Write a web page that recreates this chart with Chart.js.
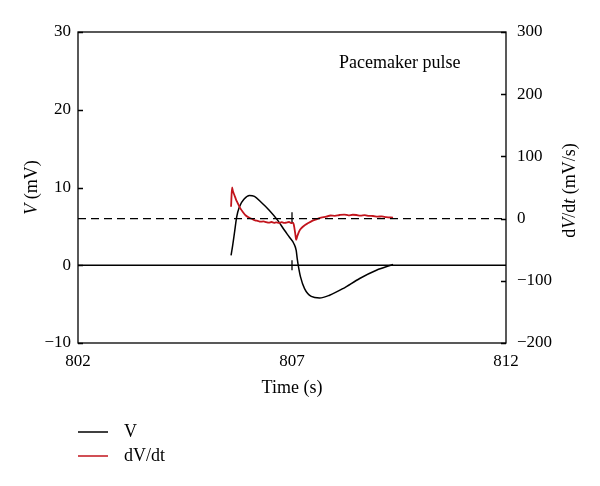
<!DOCTYPE html>
<html lang="en">
<head>
  <meta charset="UTF-8">
  <title>Pacemaker pulse</title>
  <script src="https://cdn.jsdelivr.net/npm/chart.js"></script>
  <style>
    body { margin: 0; background: #fff; }
    #wrap { width: 600px; height: 486px; }
  </style>
</head>
<body>
  <div id="wrap"><canvas id="pulseChart"></canvas></div>

  <script>
    // V (mV) against time (s)
    const timeV = [805.576, 805.614, 805.653, 805.707, 805.770, 805.888, 806.005, 806.122, 806.279, 806.473,
                   806.667, 806.824, 806.941, 807.042, 807.098, 807.122, 807.152, 807.199, 807.293, 807.450,
                   807.644, 807.878, 808.190, 808.581, 808.972, 809.361];
    const valueV = [1.28, 2.56, 4.06, 6.2, 7.5, 8.55, 8.97, 8.85, 8.1, 7.05,
                    5.77, 4.5, 3.6, 2.8, 1.9, 0.86, -0.2, -1.5, -3.0, -4.0,
                    -4.2, -3.85, -3.0, -1.7, -0.64, 0.1];

    // dV/dt (mV/s) against time (s)
    const timeDv = [805.576, 805.600, 805.620, 805.653, 805.690, 805.731, 805.780, 805.848, 805.920, 806.005,
                    806.080, 806.140, 806.199, 806.260, 806.330, 806.396, 806.460, 806.520, 806.580, 806.630,
                    806.700, 806.760, 806.820, 806.864, 806.930, 806.980, 807.019, 807.040, 807.058, 807.080,
                    807.098, 807.120, 807.136, 807.170, 807.215, 807.290, 807.370, 807.460, 807.567, 807.680,
                    807.801, 807.900, 808.000, 808.112, 808.220, 808.320, 808.420, 808.504, 808.600, 808.700,
                    808.800, 808.892, 809.000, 809.100, 809.200, 809.361];
    const valueDv = [19, 50, 44, 38, 31, 25, 18, 11, 5, 1.5,
                     -1, -3, -3.5, -5, -4.5, -5.5, -6.5, -5.5, -6.8, -6,
                     -7, -5.8, -7, -6.5, -5.5, -7.2, -6.5, -9, -16, -26,
                     -34, -29, -26, -20, -15.6, -11, -7.6, -4, -1.1, 1.5,
                     3, 5, 4.5, 5.8, 6.5, 5.2, 6.2, 5.8, 4.8, 5.5,
                     4.4, 4.2, 3.2, 3.6, 2.4, 1.5];

    const xTicks = [802, 807, 812];
    const leftTicks = [-10, 0, 10, 20, 30];
    const rightTicks = [-200, -100, 0, 100, 200, 300];
    const markTime = 807;

    const SERIF = '"Liberation Serif", "Times New Roman", serif';
    const RED = '#c2141c';

    function toPoints(xs, ys) {
      return xs.map((x, i) => ({ x: x, y: ys[i] }));
    }
    function minus(v) {
      return String(v).replace('-', '\u2212');
    }

    // draws mixed roman/italic text centred on (cx, cy)
    function drawParts(ctx, parts, cx, cy, angle, size) {
      ctx.save();
      ctx.translate(cx, cy);
      ctx.rotate(angle);
      ctx.textBaseline = 'middle';
      ctx.textAlign = 'left';
      let total = 0;
      parts.forEach(p => {
        ctx.font = (p[1] ? 'italic ' : '') + size + 'px ' + SERIF;
        total += ctx.measureText(p[0]).width;
      });
      let x = -total / 2;
      parts.forEach(p => {
        ctx.font = (p[1] ? 'italic ' : '') + size + 'px ' + SERIF;
        ctx.fillText(p[0], x, 0);
        x += ctx.measureText(p[0]).width;
      });
      ctx.restore();
    }

    const decorations = {
      id: 'decorations',
      afterDraw(chart) {
        const ctx = chart.ctx;
        const a = chart.chartArea;
        const yL = chart.scales.yL, yR = chart.scales.yR;
        ctx.save();
        ctx.strokeStyle = '#000';
        ctx.lineWidth = 1.3;
        ctx.strokeRect(a.left, a.top, a.right - a.left, a.bottom - a.top);

        // inward tick marks
        ctx.beginPath();
        leftTicks.forEach(v => {
          const y = Math.round(yL.getPixelForValue(v)) + 0.5;
          ctx.moveTo(a.left, y); ctx.lineTo(a.left + 5, y);
        });
        rightTicks.forEach(v => {
          const y = Math.round(yR.getPixelForValue(v)) + 0.5;
          ctx.moveTo(a.right - 5, y); ctx.lineTo(a.right, y);
        });
        ctx.stroke();

        ctx.fillStyle = '#000';
        drawParts(ctx, [['Time (s)', false]], (a.left + a.right) / 2, 388, 0, 18);
        drawParts(ctx, [['V', true], [' (mV)', false]], 32, (a.top + a.bottom) / 2, -Math.PI / 2, 18);
        drawParts(ctx, [['d', false], ['V', true], ['/d', false], ['t', true], [' (mV/s)', false]],
          570, (a.top + a.bottom) / 2 + 3, -Math.PI / 2, 18);

        ctx.font = '18px ' + SERIF;
        ctx.textAlign = 'left';
        ctx.textBaseline = 'middle';
        ctx.fillText('Pacemaker pulse', 339, 63);

        // legend
        const items = [['V', '#000', 432], ['dV/dt', RED, 456]];
        items.forEach(it => {
          ctx.strokeStyle = it[1];
          ctx.lineWidth = 1.5;
          ctx.beginPath();
          ctx.moveTo(78, it[2]); ctx.lineTo(108, it[2]);
          ctx.stroke();
          ctx.fillStyle = '#000';
          ctx.fillText(it[0], 124, it[2]);
        });
        ctx.restore();
      }
    };

    const ctx = document.getElementById('pulseChart').getContext('2d');
    const chart = new Chart(ctx, {
      type: 'line',
      data: {
        datasets: [
          {
            label: 'zero V',
            data: [{ x: 802, y: 0 }, { x: 812, y: 0 }],
            yAxisID: 'yL',
            borderColor: '#000',
            borderWidth: 1.3,
            pointRadius: 0
          },
          {
            label: 'zero dV/dt',
            data: [{ x: 802, y: 0 }, { x: 812, y: 0 }],
            yAxisID: 'yR',
            borderColor: '#000',
            borderWidth: 1.3,
            borderDash: [8, 5],
            pointRadius: 0
          },
          {
            label: 'mark V',
            data: [{ x: markTime, y: 0 }],
            yAxisID: 'yL',
            showLine: false,
            pointStyle: 'line',
            rotation: 90,
            pointRadius: 5,
            borderColor: '#000',
            borderWidth: 1.3
          },
          {
            label: 'mark dV/dt',
            data: [{ x: markTime, y: 2 }],
            yAxisID: 'yR',
            showLine: false,
            pointStyle: 'line',
            rotation: 90,
            pointRadius: 5,
            borderColor: '#000',
            borderWidth: 1.3
          },
          {
            label: 'dV/dt',
            data: toPoints(timeDv, valueDv),
            yAxisID: 'yR',
            borderColor: RED,
            borderWidth: 1.8,
            pointRadius: 0,
            cubicInterpolationMode: 'monotone'
          },
          {
            label: 'V',
            data: toPoints(timeV, valueV),
            yAxisID: 'yL',
            borderColor: '#000',
            borderWidth: 1.5,
            pointRadius: 0,
            cubicInterpolationMode: 'monotone'
          }
        ]
      },
      options: {
        responsive: true,
        maintainAspectRatio: false,
        animation: false,
        layout: { padding: { top: 32, left: 0, right: 0, bottom: 0 } },
        plugins: {
          legend: { display: false },
          tooltip: { enabled: false }
        },
        scales: {
          x: {
            type: 'linear',
            min: 802,
            max: 812,
            afterBuildTicks: s => { s.ticks = xTicks.map(v => ({ value: v })); },
            afterFit: s => { s.height = 143; },
            grid: { display: false, drawTicks: false },
            border: { display: false },
            ticks: { padding: 8, color: '#000', font: { family: SERIF, size: 17 }, maxRotation: 0 }
          },
          yL: {
            position: 'left',
            min: -10,
            max: 30,
            afterBuildTicks: s => { s.ticks = leftTicks.map(v => ({ value: v })); },
            afterFit: s => { s.width = 78; },
            grid: { display: false, drawTicks: false },
            border: { display: false },
            ticks: { padding: 7, color: '#000', font: { family: SERIF, size: 17 }, callback: v => minus(v) }
          },
          yR: {
            position: 'right',
            min: -200,
            max: 300,
            afterBuildTicks: s => { s.ticks = rightTicks.map(v => ({ value: v })); },
            afterFit: s => { s.width = 94; },
            grid: { display: false, drawTicks: false },
            border: { display: false },
            ticks: { padding: 11, color: '#000', font: { family: SERIF, size: 17 }, callback: v => minus(v) }
          }
        }
      },
      plugins: [decorations]
    });
  </script>
</body>
</html>
